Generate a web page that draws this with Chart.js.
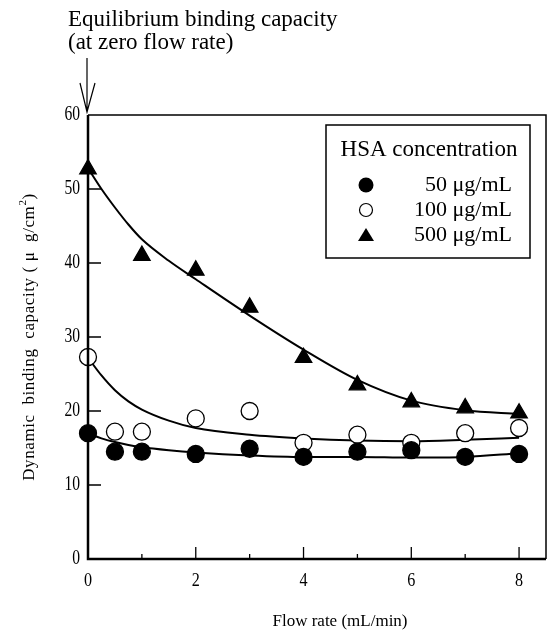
<!DOCTYPE html>
<html>
<head>
<meta charset="utf-8">
<script src="https://cdn.jsdelivr.net/npm/chart.js@4/dist/chart.umd.min.js"></script>
<style>
  html, body { margin: 0; padding: 0; background: #fff; }
  #wrap { width: 549px; height: 638px; }
</style>
</head>
<body>
<div id="wrap"><canvas id="chart" width="549" height="638"></canvas></div>
<script>
// measured points (flow rate in mL/min, capacity in ug/cm2)
const flowRate = [0, 0.5, 1, 2, 3, 4, 5, 6, 7, 8];
const hsa50 = [17.0, 14.5, 14.5, 14.2, 14.9, 13.8, 14.5, 14.7, 13.8, 14.2];
const hsa100 = [27.3, 17.2, 17.2, 19.0, 20.0, 15.7, 16.8, 15.7, 17.0, 17.7];
const flowRate500 = [0, 1, 2, 3, 4, 5, 6, 7, 8];
const hsa500 = [52.7, 41.0, 39.0, 34.0, 27.2, 23.5, 21.2, 20.4, 19.7];

// fitted curves
const fitX = [0, 0.25, 0.5, 0.75, 1, 1.5, 2, 3, 4, 5, 6, 7, 8];
const fit50 = [17.0, 16.3, 15.8, 15.4, 15.1, 14.7, 14.4, 14.0, 13.8, 13.8, 13.7, 13.8, 14.3];
const fit100 = [27.2, 24.8, 22.8, 21.3, 20.2, 18.7, 17.7, 16.8, 16.3, 16.0, 15.9, 16.1, 16.4];
const fit500 = [52.8, 50.0, 47.5, 45.2, 43.2, 40.3, 37.8, 32.9, 28.3, 24.2, 21.4, 20.1, 19.6];

const xTicks = [0, 2, 4, 6, 8];
const xMinorTicks = [1, 3, 5, 7];
const yTicks = [0, 10, 20, 30, 40, 50, 60];

const legendLabels = ['50 \u03bcg/mL', '100 \u03bcg/mL', '500 \u03bcg/mL'];

const SERIF = '"Liberation Serif", "Times New Roman", serif';

function pts(xs, ys) {
    return xs.map((x, i) => ({ x: x, y: ys[i] }));
}

function curve(ys) {
    return {
        type: 'line',
        data: pts(fitX, ys),
        borderColor: '#000',
        borderWidth: 2,
        pointRadius: 0,
        fill: false,
        cubicInterpolationMode: 'monotone',
        clip: false,
        order: 2
    };
}

function markers(xs, ys, style, filled, r) {
    return {
        type: 'scatter',
        data: pts(xs, ys),
        pointStyle: style,
        pointRadius: r,
        pointBackgroundColor: filled ? '#000' : '#fff',
        pointBorderColor: '#000',
        pointBorderWidth: 1.3,
        showLine: false,
        clip: false,
        order: 1
    };
}

// frame, inward ticks, labels, legend box and annotation
const decor = {
    id: 'decor',
    afterDraw(chart) {
        const ctx = chart.ctx;
        const a = chart.chartArea;
        const xs = chart.scales.x;
        const ys = chart.scales.y;
        ctx.save();
        ctx.strokeStyle = '#000';
        ctx.fillStyle = '#000';

        // frame
        ctx.lineWidth = 1.5;
        ctx.beginPath();
        ctx.moveTo(a.left, a.top);
        ctx.lineTo(a.right, a.top);
        ctx.lineTo(a.right, a.bottom);
        ctx.stroke();
        ctx.lineWidth = 2.5;
        ctx.beginPath();
        ctx.moveTo(a.left, a.top);
        ctx.lineTo(a.left, a.bottom);
        ctx.lineTo(a.right, a.bottom);
        ctx.stroke();

        // ticks
        ctx.lineWidth = 1.3;
        ctx.beginPath();
        yTicks.forEach(v => {
            if (v === 0 || v === 60) return;
            const py = ys.getPixelForValue(v);
            ctx.moveTo(a.left, py);
            ctx.lineTo(a.left + 13, py);
        });
        xTicks.forEach(v => {
            if (v === 0) return;
            const px = xs.getPixelForValue(v);
            ctx.moveTo(px, a.bottom);
            ctx.lineTo(px, a.bottom - 12);
        });
        xMinorTicks.forEach(v => {
            const px = xs.getPixelForValue(v);
            ctx.moveTo(px, a.bottom);
            ctx.lineTo(px, a.bottom - 5);
        });
        ctx.stroke();

        // tick labels
        ctx.font = '20px ' + SERIF;
        ctx.textAlign = 'right';
        ctx.textBaseline = 'middle';
        yTicks.forEach(v => {
            const py = ys.getPixelForValue(v);
            ctx.save();
            ctx.translate(80, py);
            ctx.scale(0.78, 1);
            ctx.fillText(String(v), 0, 0);
            ctx.restore();
        });
        ctx.font = '19px ' + SERIF;
        ctx.textAlign = 'center';
        xTicks.forEach(v => {
            ctx.save();
            ctx.translate(xs.getPixelForValue(v), 581);
            ctx.scale(0.85, 1);
            ctx.fillText(String(v), 0, 0);
            ctx.restore();
        });

        // axis titles
        ctx.font = '17px ' + SERIF;
        ctx.fillText('Flow rate (mL/min)', 340, 622);

        ctx.save();
        ctx.translate(30, (a.top + a.bottom) / 2);
        ctx.rotate(-Math.PI / 2);
        ctx.font = '17px ' + SERIF;
        ctx.letterSpacing = '0.6px';
        const main = 'Dynamic  binding  capacity ( \u03bc  g/cm';
        const wMain = ctx.measureText(main).width;
        ctx.font = '11px ' + SERIF;
        const wSup = ctx.measureText('2').width;
        ctx.font = '17px ' + SERIF;
        const wEnd = ctx.measureText(')').width;
        let sx = -(wMain + wSup + wEnd) / 2;
        ctx.textAlign = 'left';
        ctx.fillText(main, sx, 0);
        sx += wMain;
        ctx.font = '11px ' + SERIF;
        ctx.fillText('2', sx, -7);
        sx += wSup;
        ctx.font = '17px ' + SERIF;
        ctx.fillText(')', sx, 0);
        ctx.restore();

        // annotation with arrow
        ctx.font = '23px ' + SERIF;
        ctx.textAlign = 'left';
        ctx.textBaseline = 'alphabetic';
        ctx.fillText('Equilibrium binding capacity', 68, 26);
        ctx.fillText('(at zero flow rate)', 68, 49);
        ctx.lineWidth = 1.2;
        ctx.beginPath();
        ctx.moveTo(87, 58);
        ctx.lineTo(87, 112);
        ctx.moveTo(80, 83);
        ctx.lineTo(87, 112);
        ctx.lineTo(95, 83);
        ctx.stroke();

        // legend
        ctx.fillStyle = '#fff';
        ctx.fillRect(326, 125, 204, 133);
        ctx.fillStyle = '#000';
        ctx.lineWidth = 1.5;
        ctx.strokeRect(326, 125, 204, 133);
        ctx.font = '23px ' + SERIF;
        ctx.textAlign = 'center';
        ctx.textBaseline = 'middle';
        ctx.fillText('HSA concentration', 429, 150);
        ctx.font = '22px ' + SERIF;
        ctx.textAlign = 'right';
        const rowsY = [185, 210, 235];
        legendLabels.forEach((t, i) => ctx.fillText(t, 512, rowsY[i]));
        ctx.lineWidth = 1.2;
        ctx.beginPath();
        ctx.arc(366, rowsY[0], 7.5, 0, Math.PI * 2);
        ctx.fill();
        ctx.beginPath();
        ctx.arc(366, rowsY[1], 6.5, 0, Math.PI * 2);
        ctx.stroke();
        ctx.beginPath();
        ctx.moveTo(366, rowsY[2] - 7);
        ctx.lineTo(374, rowsY[2] + 6);
        ctx.lineTo(358, rowsY[2] + 6);
        ctx.closePath();
        ctx.fill();

        ctx.restore();
    }
};

new Chart(document.getElementById('chart'), {
    type: 'scatter',
    data: {
        datasets: [
            curve(fit50),
            curve(fit100),
            curve(fit500),
            markers(flowRate, hsa50, 'circle', true, 8.5),
            markers(flowRate, hsa100, 'circle', false, 8.5),
            markers(flowRate500, hsa500, 'triangle', true, 9.5)
        ]
    },
    options: {
        responsive: false,
        animation: false,
        layout: {
            autoPadding: false,
            padding: { left: 88, top: 115, right: 3, bottom: 79 }
        },
        plugins: {
            legend: { display: false },
            tooltip: { enabled: false }
        },
        scales: {
            x: { type: 'linear', min: 0, max: 8.5, display: false },
            y: { type: 'linear', min: 0, max: 60, display: false }
        }
    },
    plugins: [decor]
});
</script>
</body>
</html>
